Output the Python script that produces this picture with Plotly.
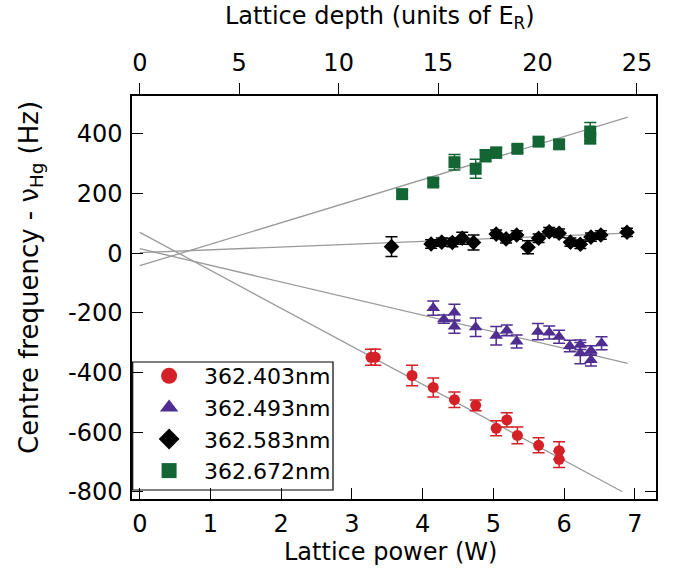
import plotly.graph_objects as go

# ---------------- data ----------------
red_x = [3.27, 3.33, 3.85, 4.15, 4.45, 4.75, 5.04, 5.19, 5.34, 5.64, 5.93, 5.93]
red_y = [-349, -349, -410, -450, -491, -510, -587, -559, -611, -644, -662, -691]
red_e = [27, 27, 34, 32, 26, 18, 25, 24, 28, 25, 30, 27]

pur_x = [4.15, 4.30, 4.45, 4.45, 4.75, 5.04, 5.19, 5.33, 5.63, 5.79, 5.93, 6.08, 6.23, 6.23, 6.38, 6.38, 6.53]
pur_y = [-184, -221, -199, -246, -248, -277, -259, -296, -263, -266, -280, -311, -307, -335, -326, -358, -302]
pur_e = [24, 14, 28, 22, 31, 31, 18, 22, 27, 22, 22, 19, 16, 36, 16, 20, 22]

blk_x = [3.56, 4.12, 4.27, 4.42, 4.56, 4.72, 5.04, 5.18, 5.33, 5.49, 5.64, 5.79, 5.93, 6.09, 6.23, 6.38, 6.52, 6.89]
blk_y = [22, 31, 37, 36, 50, 36, 64, 48, 61, 20, 50, 72, 67, 37, 30, 54, 61, 70]
blk_e = [33, 14, 14, 14, 20, 25, 14, 14, 14, 22, 14, 14, 14, 14, 14, 14, 14, 14]

grn_x = [3.71, 4.15, 4.45, 4.75, 4.89, 5.04, 5.34, 5.64, 5.93, 6.37, 6.37]
grn_y = [198, 237, 305, 283, 327, 337, 350, 374, 365, 408, 385]
grn_e = [12, 12, 26, 32, 20, 18, 12, 12, 12, 30, 18]

series_names = ["362.403nm", "362.493nm", "362.583nm", "362.672nm"]
series_colors = ["#d42027", "#4f2d91", "#000000", "#136634"]
series_symbols = ["circle", "triangle-up", "diamond", "square"]
series_sizes = [11, 12, 12, 12]
legend_sizes = [16, 16, 16, 15]

# straight fit lines: endpoints
fit_x = [[0, 6.82], [0, 6.90], [0, 6.89], [0, 6.90]]
fit_y = [[70, -799], [15, -369], [2, 67], [-42, 456]]

# axes
x_range = [-0.11, 7.30]
er_per_watt = 3.556           # lattice depth (E_R) per watt of lattice power
y_range = [-824, 527]
x_ticks = [0, 1, 2, 3, 4, 5, 6, 7]
x2_ticks = [0, 5, 10, 15, 20, 25]
y_ticks = [-800, -600, -400, -200, 0, 200, 400]
y_ticktext = ["-800", "-600", "-400", "-200", "0", "200", "400"]

FONT = "DejaVu Sans"
FS_LEG = 22
FS_TICK = 24
FS_TITLE = 24
FS_YTITLE = 26
W, H = 681, 577
ML, MR, MT, MB = 132, 25, 96, 78
PW, PH = W - ML - MR, H - MT - MB


def px_x(px):
    return (px - ML) / PW


def px_y(py):
    return (H - MB - py) / PH


fig = go.Figure()

for fx, fy in zip(fit_x, fit_y):
    fig.add_trace(go.Scatter(x=fx, y=fy, mode="lines",
                             line=dict(color="#9a9a9a", width=1.3),
                             showlegend=False, hoverinfo="skip"))

data = [(red_x, red_y, red_e), (pur_x, pur_y, pur_e), (blk_x, blk_y, blk_e), (grn_x, grn_y, grn_e)]
for (xs, ys, es), name, col, sym, sz in zip(data, series_names, series_colors, series_symbols, series_sizes):
    fig.add_trace(go.Scatter(
        x=xs, y=ys, mode="markers", name=name, showlegend=False,
        marker=dict(color=col, symbol=sym, size=sz, line=dict(width=0)),
        error_y=dict(type="data", array=es, visible=True, color=col, thickness=1.5, width=6),
    ))

# legend entries (larger symbols, as in the reference legend)
for name, col, sym, lsz in zip(series_names, series_colors, series_symbols, legend_sizes):
    fig.add_trace(go.Scatter(x=[None], y=[None], mode="markers", name=name,
                             marker=dict(color=col, symbol=sym, size=lsz, line=dict(width=0)),
                             hoverinfo="skip"))

# empty trace to create the top axis
fig.add_trace(go.Scatter(x=[], y=[], xaxis="x2", showlegend=False, hoverinfo="skip"))

axis_common = dict(showgrid=False, zeroline=False, showline=True, linecolor="black", linewidth=1.5,
                   tickcolor="black", tickwidth=1.2, ticklen=11,
                   tickfont=dict(family=FONT, size=FS_TICK, color="black"))

fig.update_layout(
    width=W, height=H,
    margin=dict(l=ML, r=MR, t=MT, b=MB),
    paper_bgcolor="white", plot_bgcolor="white",
    font=dict(family=FONT, size=FS_TICK, color="black"),
    xaxis=dict(range=x_range, tickvals=x_ticks, ticks="inside", mirror=True,
               ticklabelstandoff=2, **axis_common),
    xaxis2=dict(range=[x_range[0] * er_per_watt, x_range[1] * er_per_watt], tickvals=x2_ticks,
                overlaying="x", side="top", ticks="outside", ticklabelstandoff=3, **axis_common),
    yaxis=dict(range=y_range, tickvals=y_ticks, ticktext=y_ticktext, ticks="inside", mirror="ticks",
               ticklabelstandoff=3, **axis_common),
    legend=dict(x=0.004, y=px_y(355), xanchor="left", yanchor="top",
                bgcolor="rgba(0,0,0,0)", borderwidth=0,
                font=dict(family=FONT, size=FS_LEG, color="black"),
                itemwidth=60, tracegroupgap=0),
    showlegend=True,
    shapes=[dict(type="rect", xref="paper", yref="paper",
                 x0=px_x(132.7), x1=px_x(333), y0=px_y(490), y1=px_y(362),
                 line=dict(color="black", width=1.2), fillcolor="rgba(0,0,0,0)", layer="above")],
    annotations=[
        dict(text="Lattice depth (units of E<sub>R</sub>)", xref="paper", yref="paper",
             x=px_x(380), y=px_y(18), xanchor="center", yanchor="middle", showarrow=False,
             font=dict(family=FONT, size=FS_TITLE, color="black")),
        dict(text="Lattice power (W)", xref="paper", yref="paper",
             x=px_x(390), y=px_y(552), xanchor="center", yanchor="middle", showarrow=False,
             font=dict(family=FONT, size=FS_TITLE, color="black")),
        dict(text="Centre frequency - ν<sub>Hg</sub> (Hz)", xref="paper", yref="paper",
             x=px_x(30), y=px_y(278), xanchor="center", yanchor="middle", textangle=-90,
             showarrow=False, font=dict(family=FONT, size=FS_YTITLE, color="black")),
    ],
)

fig.write_html("out.html", config={"displayModeBar": False},
               post_script="document.body.style.margin='0px';")
